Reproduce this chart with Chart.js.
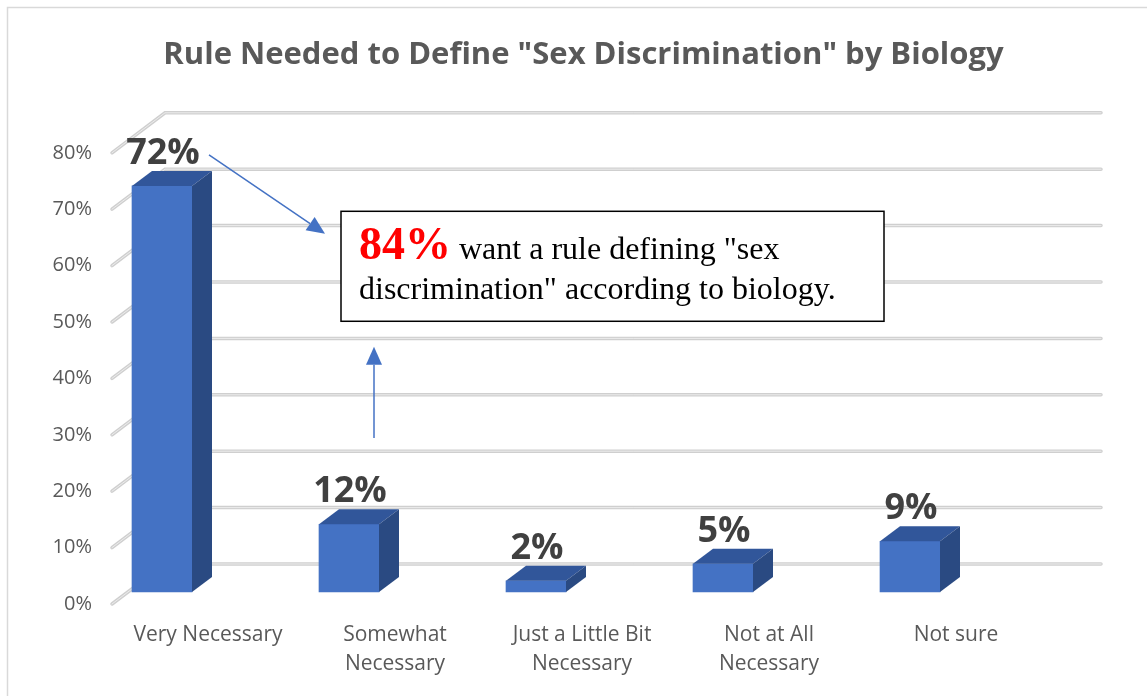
<!DOCTYPE html>
<html>
<head>
<meta charset="utf-8">
<script src="https://cdn.jsdelivr.net/npm/chart.js@4.4.1/dist/chart.umd.min.js"></script>
<style>
    body { margin: 0; background: #fff; }
    #contenedorGrafico { width: 1147px; height: 696px; }
</style>
</head>
<body>
<div id="contenedorGrafico"><canvas id="graficoNecesidad" width="1147" height="696"></canvas></div>
<script>
// datos
const categorias = ['Very Necessary', ['Somewhat', 'Necessary'], ['Just a Little Bit', 'Necessary'], ['Not at All', 'Necessary'], 'Not sure'];
const valores = [72, 12, 2, 5, 9];
const ticksY = [0, 10, 20, 30, 40, 50, 60, 70, 80];

const titulo = 'Rule Needed to Define "Sex Discrimination" by Biology';
const notaRoja = '84%';
const notaLinea1 = 'want a rule defining "sex';
const notaLinea2 = 'discrimination" according to biology.';

// profundidad 3D (px)
const prof = { dx: 20, dy: -15 };
const azul = '#4472C4';

function flecha(ctx, x1, y1, x2, y2) {
    const ang = Math.atan2(y2 - y1, x2 - x1);
    const largo = 18, ancho = 8;
    const bx = x2 - largo * Math.cos(ang), by = y2 - largo * Math.sin(ang);
    ctx.beginPath();
    ctx.moveTo(x1, y1);
    ctx.lineTo(bx, by);
    ctx.stroke();
    ctx.beginPath();
    ctx.moveTo(x2, y2);
    ctx.lineTo(bx + ancho * Math.sin(ang), by - ancho * Math.cos(ang));
    ctx.lineTo(bx - ancho * Math.sin(ang), by + ancho * Math.cos(ang));
    ctx.closePath();
    ctx.fill();
}

const fondo3d = {
    id: 'fondo3d',
    beforeDraw(chart) {
        const ctx = chart.ctx;
        ctx.save();
        ctx.fillStyle = '#fff';
        ctx.fillRect(0, 0, chart.width, chart.height);
        ctx.strokeStyle = '#d9d9d9';
        ctx.lineWidth = 1.5;
        ctx.strokeRect(7.5, 7.5, chart.width + 20, chart.height + 20);
        ctx.restore();
    },
    beforeDatasetsDraw(chart) {
        const { ctx, chartArea, scales } = chart;
        ctx.save();
        ticksY.forEach(v => {
            const py = scales.y.getPixelForValue(v);
            const camino = () => {
                ctx.beginPath();
                ctx.moveTo(chartArea.left - 50, py + 12);
                ctx.lineTo(chartArea.left + 3, py - 28);
                ctx.lineTo(chartArea.right + 191, py - 28);
            };
            camino();
            ctx.strokeStyle = '#cfcfcf';
            ctx.lineWidth = 3.5;
            ctx.lineCap = 'round';
            ctx.stroke();
            camino();
            ctx.strokeStyle = '#ececec';
            ctx.lineWidth = 1;
            ctx.stroke();
        });
        ctx.restore();
    },
    afterDatasetsDraw(chart) {
        const { ctx, scales } = chart;
        const meta = chart.getDatasetMeta(0);
        ctx.save();
        meta.data.forEach((barra, i) => {
            const { x, y, base, width } = barra.getProps(['x', 'y', 'base', 'width'], true);
            const izq = x - width / 2, der = x + width / 2;

            // cara superior
            ctx.beginPath();
            ctx.moveTo(izq, y);
            ctx.lineTo(izq + prof.dx, y + prof.dy);
            ctx.lineTo(der + prof.dx, y + prof.dy);
            ctx.lineTo(der, y);
            ctx.closePath();
            ctx.fillStyle = '#31569A';
            ctx.fill();

            // cara lateral
            ctx.beginPath();
            ctx.moveTo(der, y);
            ctx.lineTo(der + prof.dx, y + prof.dy);
            ctx.lineTo(der + prof.dx, base + prof.dy);
            ctx.lineTo(der, base);
            ctx.closePath();
            ctx.fillStyle = '#2A4A82';
            ctx.fill();

            // etiqueta
            ctx.font = 'bold 36px "Open Sans"';
            ctx.fillStyle = '#404040';
            ctx.textAlign = 'center';
            ctx.textBaseline = 'alphabetic';
            ctx.fillText(valores[i] + '%', x + 1, y + prof.dy - 7);
        });

        // flechas
        const px = i => scales.x.getPixelForValue(i);
        const py = v => scales.y.getPixelForValue(v);
        ctx.strokeStyle = azul;
        ctx.fillStyle = azul;
        ctx.lineWidth = 1.5;
        flecha(ctx, px(0) + 47, py(77.5), px(1) - 24, py(63.5));
        flecha(ctx, px(1) + 25, py(27.3), px(1) + 25, py(43.5));

        // recuadro
        const bx = px(1) - 8, by = py(67.5);
        const bw = px(4) - 26 - bx, bh = py(48) - by;
        ctx.fillStyle = '#fff';
        ctx.fillRect(bx, by, bw, bh);
        ctx.strokeStyle = '#000';
        ctx.lineWidth = 1.5;
        ctx.strokeRect(bx, by, bw, bh);

        ctx.textAlign = 'left';
        ctx.textBaseline = 'alphabetic';
        ctx.font = 'bold 46px "Liberation Serif"';
        ctx.fillStyle = '#ff0000';
        ctx.fillText(notaRoja, bx + 18, by + 48);
        const w84 = ctx.measureText(notaRoja).width;
        ctx.font = '32px "Liberation Serif"';
        ctx.fillStyle = '#000';
        ctx.fillText(' ' + notaLinea1, bx + 18 + w84, by + 48);
        ctx.fillText(notaLinea2, bx + 18, by + 88);
        ctx.restore();
    }
};

const ctx = document.getElementById('graficoNecesidad').getContext('2d');

const grafico = new Chart(ctx, {
    type: 'bar',
    plugins: [fondo3d],
    data: {
        labels: categorias,
        datasets: [{
            data: valores,
            backgroundColor: azul,
            borderWidth: 0,
            barThickness: 60,
            clip: false
        }]
    },
    options: {
        responsive: false,
        animation: false,
        devicePixelRatio: 1,
        layout: { padding: { left: 20, right: 0, top: 0, bottom: 0 } },
        plugins: {
            legend: { display: false },
            tooltip: { enabled: false },
            title: {
                display: true,
                text: titulo,
                color: '#595959',
                font: { family: 'Open Sans', size: 31, weight: 'bold', lineHeight: 1.2 },
                padding: { top: 37, bottom: 66.6 }
            }
        },
        scales: {
            x: {
                offset: false,
                grid: { display: false, drawTicks: false },
                border: { display: false },
                ticks: {
                    color: '#595959',
                    font: { family: 'Open Sans', size: 21, lineHeight: 1.38 },
                    padding: 29,
                    labelOffset: 46,
                    autoSkip: false,
                    maxRotation: 0
                },
                afterFit(escala) { escala.height = 104; }
            },
            y: {
                min: ticksY[0],
                max: ticksY[ticksY.length - 1],
                grid: { display: false, drawTicks: false },
                border: { display: false },
                ticks: {
                    stepSize: ticksY[1] - ticksY[0],
                    color: '#595959',
                    font: { family: 'Open Sans', size: 20 },
                    padding: 70,
                    labelOffset: 12,
                    callback: v => v + '%'
                },
                afterFit(escala) { escala.width = 142; }
            },
            // eje vacio a la derecha para dejar el espacio del fondo 3D
            derecha: {
                type: 'linear',
                position: 'right',
                grid: { display: false, drawTicks: false },
                border: { display: false },
                ticks: { display: false },
                afterFit(escala) { escala.width = 237; }
            }
        }
    }
});
</script>
</body>
</html>
